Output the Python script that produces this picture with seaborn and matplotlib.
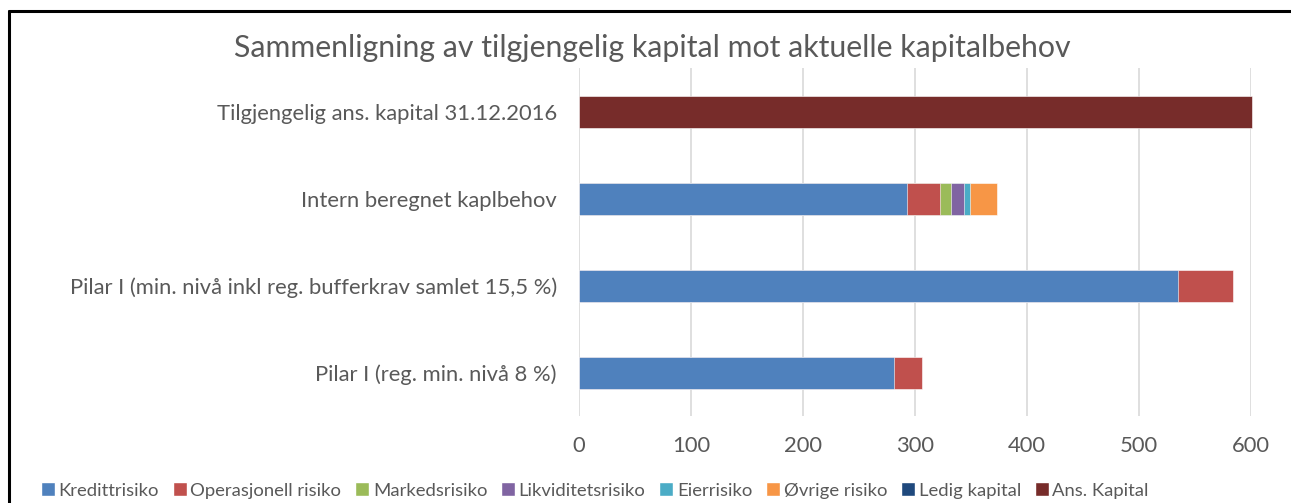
import pandas as pd
import matplotlib.pyplot as plt
import seaborn as sns
from matplotlib.lines import Line2D
from matplotlib.patches import Patch

categories = ['Tilgjengelig ans. kapital 31.12.2016',
              'Intern beregnet kaplbehov',
              'Pilar I (min. nivå inkl reg. bufferkrav samlet 15,5 %)',
              'Pilar I (reg. min. nivå 8 %)']
series = ['Kredittrisiko', 'Operasjonell risiko', 'Markedsrisiko', 'Likviditetsrisiko',
          'Eierrisiko', 'Øvrige risiko', 'Ledig kapital', 'Ans. Kapital']
colors = ['#4F81BD', '#C0504D', '#9BBB59', '#8064A2', '#4BACC6', '#F79646', '#1F497D', '#772C2A']

kredittrisiko = [0, 293, 535, 281]
operasjonell = [0, 29, 49, 25]
markedsrisiko = [0, 10, 0, 0]
likviditetsrisiko = [0, 12, 0, 0]
eierrisiko = [0, 5, 0, 0]
ovrige = [0, 24, 0, 0]
ledig = [0, 0, 0, 0]
ans_kapital = [601, 0, 0, 0]

values = [kredittrisiko, operasjonell, markedsrisiko, likviditetsrisiko,
          eierrisiko, ovrige, ledig, ans_kapital]

# long table with cumulative ends, so the stack can be drawn back to front
rows = []
for i, cat in enumerate(categories):
    total = 0
    for s, vals in zip(series, values):
        total += vals[i]
        rows.append({'kategori': cat, 'serie': s, 'verdi': vals[i], 'cum': total})
df = pd.DataFrame(rows)

sns.set_style('white')
plt.rcParams['font.family'] = ['Lato', 'DejaVu Sans']

fig = plt.figure(figsize=(12.91, 5.03), dpi=100)
ax = fig.add_axes([0.4485, 0.172, 0.5205, 0.692])

for s, c in reversed(list(zip(series, colors))):
    sub = df[(df['serie'] == s) & (df['verdi'] > 0)]
    if sub.empty:
        continue
    sns.barplot(data=sub, x='cum', y='kategori', order=categories, color=c,
                width=0.36, orient='h', ax=ax, edgecolor='white', linewidth=0.4,
                saturation=1)

for p in ax.patches:
    p.set_clip_on(False)

ax.set_xlim(0, 600)
ax.set_xticks(range(0, 601, 100))
ax.set_xlabel('')
ax.set_ylabel('')
ax.xaxis.grid(True, color='#D9D9D9', linewidth=1.2)
ax.set_axisbelow(True)
sns.despine(ax=ax, left=True, bottom=True)
ax.tick_params(axis='both', length=0, colors='#595959', labelsize=15.8)
ax.tick_params(axis='y', pad=16)
ax.tick_params(axis='x', pad=14)

fig.text(0.505, 0.905, 'Sammenligning av tilgjengelig kapital mot aktuelle kapitalbehov',
         ha='center', va='center', fontsize=21.8, color='#595959')

handles = [Patch(facecolor=c, label=s) for s, c in zip(series, colors)]
fig.legend(handles=handles, loc='center left', bbox_to_anchor=(0.026, 0.025), ncol=8,
           frameon=False, fontsize=13.3, labelcolor='#595959', handlelength=0.75,
           handleheight=0.75, handletextpad=0.2, columnspacing=0.75, borderaxespad=0)

# frame of the chart area (left and top edges)
fig.add_artist(Line2D([0.0072, 0.0072], [0, 0.979], color='black', linewidth=2.2))
fig.add_artist(Line2D([0.0072, 1.0], [0.979, 0.979], color='black', linewidth=2.2))

fig.savefig('out.png', dpi=100)
